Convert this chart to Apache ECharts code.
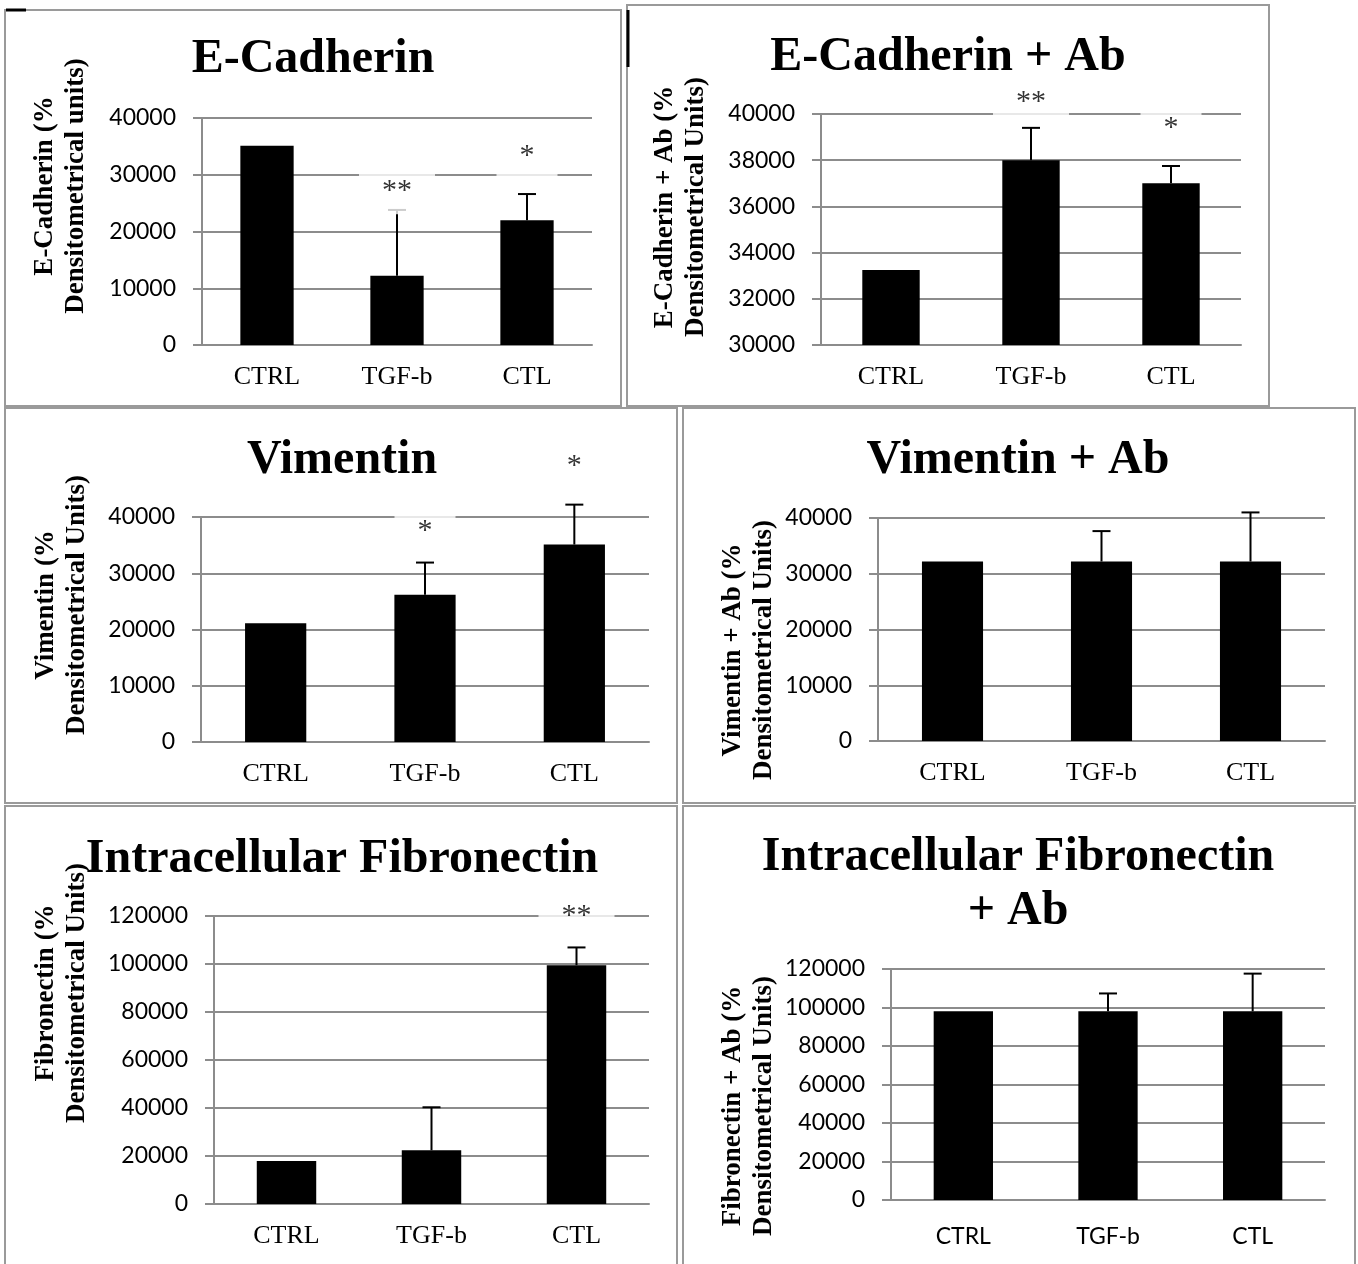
<!DOCTYPE html>
<html>
<head>
<meta charset="utf-8">
<script src="https://cdn.jsdelivr.net/npm/echarts@6/dist/echarts.min.js"></script>
<style>
  html, body { margin: 0; padding: 0; background: #fff; }
  #chart { width: 1358px; height: 1264px; }
</style>
</head>
<body>
<div id="chart"></div>
<script>
// categories shared by all six panels
const categories = ['CTRL', 'TGF-b', 'CTL'];

// E-Cadherin
const ecadMean = [35100, 12200, 22000];
const ecadErr = [0, 11600, 4600];
const ecadStars = ['', '**', '*'];
const ecadStarAt = [0, 27100, 33300];

// E-Cadherin + Ab
const ecadAbMean = [33250, 38000, 37000];
const ecadAbErr = [0, 1400, 750];
const ecadAbStars = ['', '**', '*'];
const ecadAbStarAt = [0, 40520, 39390];

// Vimentin
const vimMean = [21100, 26200, 35100];
const vimErr = [0, 5700, 7100];
const vimStars = ['', '*', '*'];
const vimStarAt = [0, 37500, 49100];

// Vimentin + Ab
const vimAbMean = [32200, 32200, 32200];
const vimAbErr = [0, 5450, 8800];

// Intracellular Fibronectin
const fibMean = [17900, 22400, 99500];
const fibErr = [0, 17900, 7400];
const fibStars = ['', '', '**'];
const fibStarAt = [0, 0, 120000];

// Intracellular Fibronectin + Ab
const fibAbMean = [98000, 98000, 98000];
const fibAbErr = [0, 9300, 19600];

const GRAY = '#8c8c8c';
const SERIF = '"Liberation Serif", "Times New Roman", serif';
const SANS = 'Lato, "Open Sans", sans-serif';

const panels = [
  { mean: ecadMean, err: ecadErr, stars: ecadStars, starAt: ecadStarAt,
    min: 0, max: 40000, interval: 10000,
    grid: { left: 202, top: 118, width: 390, height: 227 } },
  { mean: ecadAbMean, err: ecadAbErr, stars: ecadAbStars, starAt: ecadAbStarAt,
    min: 30000, max: 40000, interval: 2000,
    grid: { left: 821, top: 114, width: 420, height: 231 } },
  { mean: vimMean, err: vimErr, stars: vimStars, starAt: vimStarAt,
    min: 0, max: 40000, interval: 10000,
    grid: { left: 201, top: 517, width: 448, height: 225 } },
  { mean: vimAbMean, err: vimAbErr, stars: null, starAt: null,
    min: 0, max: 40000, interval: 10000,
    grid: { left: 878, top: 518, width: 447, height: 223 } },
  { mean: fibMean, err: fibErr, stars: fibStars, starAt: fibStarAt,
    min: 0, max: 120000, interval: 20000,
    grid: { left: 214, top: 916, width: 435, height: 288 } },
  { mean: fibAbMean, err: fibAbErr, stars: null, starAt: null,
    min: 0, max: 120000, interval: 20000, sansLabels: true,
    grid: { left: 891, top: 969, width: 434, height: 231 } }
];

const grids = [], xAxes = [], yAxes = [], series = [];

panels.forEach((p, i) => {
  grids.push(Object.assign({ containLabel: false }, p.grid));

  xAxes.push({
    gridIndex: i,
    type: 'category',
    data: categories,
    axisLine: { onZero: false, lineStyle: { color: GRAY, width: 2 } },
    axisTick: { length: 7, lineStyle: { color: GRAY, width: 2 } },
    axisLabel: p.sansLabels
      ? { color: '#000', fontFamily: SANS, fontSize: 23, margin: 25 }
      : { color: '#000', fontFamily: SERIF, fontSize: 26, margin: 19 }
  });

  yAxes.push({
    gridIndex: i,
    type: 'value',
    min: p.min,
    max: p.max,
    interval: p.interval,
    axisLine: { show: true, lineStyle: { color: GRAY, width: 2 } },
    axisTick: { show: true, length: 9, lineStyle: { color: GRAY, width: 2 } },
    axisLabel: { color: '#000', fontFamily: SANS, fontSize: 23, margin: 26,
                 formatter: v => String(v) },
    splitLine: { lineStyle: { color: GRAY, width: 2 } }
  });

  series.push({
    type: 'bar',
    xAxisIndex: i,
    yAxisIndex: i,
    data: p.mean,
    barWidth: '41%',
    itemStyle: { color: '#000' },
    z: 2
  });

  // error bars (upper whisker only)
  series.push({
    type: 'custom',
    xAxisIndex: i,
    yAxisIndex: i,
    z: 3,
    data: p.mean.map((m, j) => [j, m, p.err[j]]).filter(d => d[2] > 0),
    encode: { x: 0, y: 1 },
    renderItem: function (params, api) {
      const base = api.coord([api.value(0), api.value(1)]);
      const top = api.coord([api.value(0), api.value(1) + api.value(2)]);
      const st = { stroke: '#000', lineWidth: 2 };
      return {
        type: 'group',
        children: [
          { type: 'line', shape: { x1: base[0], y1: base[1], x2: top[0], y2: top[1] }, style: st },
          { type: 'line', shape: { x1: top[0] - 9, y1: top[1], x2: top[0] + 9, y2: top[1] }, style: st }
        ]
      };
    }
  });

  // significance asterisks
  if (p.stars) {
    series.push({
      type: 'scatter',
      xAxisIndex: i,
      yAxisIndex: i,
      z: 5,
      silent: true,
      clip: false,
      symbolSize: 0,
      itemStyle: { color: 'rgba(0,0,0,0)' },
      data: p.stars.map((s, j) => s ? { value: [j, p.starAt[j]], label: { formatter: s } } : null)
                   .filter(Boolean),
      label: {
        show: true,
        position: 'inside',
        color: '#000',
        fontFamily: SERIF,
        fontSize: 30,
        lineHeight: 26,
        backgroundColor: '#fff',
        padding: [10, 23]
      }
    });
  }
});

function titleText(text, x, y, lh) {
  return {
    type: 'text', x: x, y: y, z: 10, silent: true,
    style: { text: text, font: 'bold 48px ' + SERIF, fill: '#000',
             align: 'center', verticalAlign: 'middle', lineHeight: lh || 48 }
  };
}
function axisName(text, x, y) {
  return {
    type: 'text', x: x, y: y, rotation: Math.PI / 2, z: 10, silent: true,
    style: { text: text, font: 'bold 27px ' + SERIF, fill: '#000',
             align: 'center', verticalAlign: 'middle', lineHeight: 31 }
  };
}
function box(x, y, w, h) {
  return {
    type: 'rect', z: 0, silent: true,
    shape: { x: x, y: y, width: w, height: h },
    style: { fill: 'none', stroke: '#9a9a9a', lineWidth: 2 }
  };
}

const graphics = [
  box(5, 10, 616, 396),
  box(627, 5, 642, 401),
  box(5, 408, 672, 395),
  box(683, 408, 672, 395),
  box(5, 806, 672, 462),
  box(683, 806, 672, 462),
  { type: 'line', silent: true, shape: { x1: 6, y1: 10, x2: 26, y2: 10 },
    style: { stroke: '#000', lineWidth: 3 } },
  { type: 'line', silent: true, shape: { x1: 628, y1: 10, x2: 628, y2: 67 },
    style: { stroke: '#000', lineWidth: 3 } },
  titleText('E-Cadherin', 313, 60),
  titleText('E-Cadherin + Ab', 948, 58),
  titleText('Vimentin', 342, 461),
  titleText('Vimentin + Ab', 1018, 461),
  titleText('Intracellular Fibronectin', 342, 860),
  titleText('Intracellular Fibronectin\n+ Ab', 1018, 885, 54),
  axisName('E-Cadherin (%\nDensitometrical units)', 61, 186),
  axisName('E-Cadherin + Ab (%\nDensitometrical Units)', 681, 207),
  axisName('Vimentin (%\nDensitometrical Units)', 62, 605),
  axisName('Vimentin + Ab (%\nDensitometrical Units)', 749, 650),
  axisName('Fibronectin (%\nDensitometrical Units)', 62, 993),
  axisName('Fibronectin + Ab (%\nDensitometrical Units)', 749, 1106)
];

const chart = echarts.init(document.getElementById('chart'), null, { renderer: 'canvas' });
chart.setOption({
  backgroundColor: '#fff',
  animation: false,
  grid: grids,
  xAxis: xAxes,
  yAxis: yAxes,
  series: series,
  graphic: graphics
});
</script>
</body>
</html>
